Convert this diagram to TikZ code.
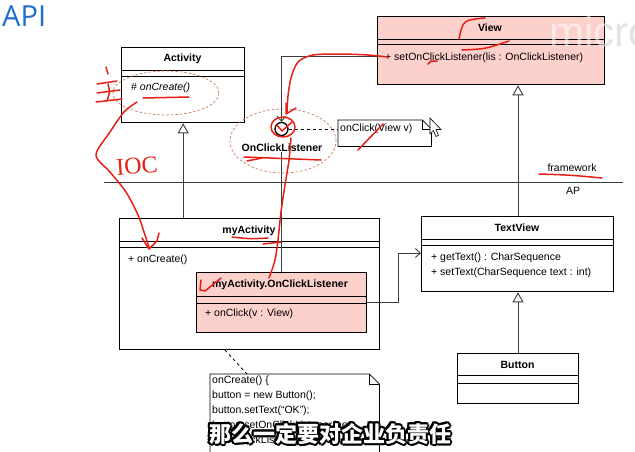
\documentclass[tikz,border=0pt]{standalone}
\usepackage{fontspec}
\setmainfont{Liberation Sans}
\newfontfamily\cjk{Noto Sans CJK SC}
\newfontfamily\apifont{Open Sans}
\newfontfamily\handfont{Liberation Serif}
\usetikzlibrary{arrows.meta}

\definecolor{pinkbox}{RGB}{252,208,203}
\definecolor{ink}{RGB}{230,32,22}
\definecolor{hintline}{RGB}{200,125,90}
\definecolor{apiblue}{RGB}{30,110,205}
\definecolor{wire}{RGB}{60,60,60}

\tikzset{
  classbox/.style={draw=black, line width=1.3pt, fill=white, inner sep=0pt, anchor=north west},
  pinkclass/.style={classbox, fill=pinkbox},
  ctitle/.style={font=\fontsize{10.5}{12}\selectfont\bfseries, inner sep=0pt},
  cmember/.style={font=\fontsize{10.5}{12}\selectfont, anchor=west, inner sep=0pt},
  sepline/.style={line width=0.9pt},
  conn/.style={draw=wire, line width=0.9pt},
  inherit/.style={conn, -{Triangle[open, length=10pt, width=11pt, fill=white]}},
  depend/.style={conn, -{Straight Barb[length=5pt, width=9pt]}},
  hintring/.style={draw=hintline, dash pattern=on 2.5pt off 2pt, line width=0.7pt},
  notebox/.style={inner sep=0pt, anchor=north west},
  pen/.style={draw=ink, line width=1.5pt, line cap=round, line join=round},
  subtitle/.style={font=\cjk\bfseries\fontsize{22}{24}\selectfont, inner sep=0pt},
}

\begin{document}
\begin{tikzpicture}[x=1pt, y=-1pt]
\useasboundingbox (0,0) rectangle (635,451);
\fill[white] (0,0) rectangle (635,451);

% heading
\node[anchor=base west, inner sep=0pt, text=apiblue, font=\apifont\fontsize{29}{30}\selectfont] (heading) at (2,26) {API};

% framework / application boundary
\coordinate (bl) at (104,182);
\coordinate (br) at (623,182);
\draw[draw=wire, line width=0.8pt] (bl) -- (br);
\node[font=\fontsize{10.5}{12}\selectfont, inner sep=0pt] (fw) at (572,168) {framework};
\node[font=\fontsize{10.5}{12}\selectfont, inner sep=0pt] (ap) at (573,191) {AP};

% Activity
\node[classbox, minimum width=123pt, minimum height=75pt] (activity) at (121,47) {};
\node[ctitle] (activityname) at (182.5,59) {Activity};
\draw[sepline] (activity.west |- 0,70) -- (activity.east |- 0,70);
\draw[sepline] (activity.west |- 0,76) -- (activity.east |- 0,76);
\node[cmember] (activityop) at (131,88) {\# \textit{onCreate()}};

% View
\node[pinkclass, minimum width=227pt, minimum height=68pt] (view) at (377,16) {};
\node[ctitle] (viewname) at (490,28) {View};
\draw[sepline] (view.west |- 0,39) -- (view.east |- 0,39);
\draw[sepline] (view.west |- 0,44) -- (view.east |- 0,44);
\node[cmember] (viewop) at (385,58) {+ setOnClickListener(lis : OnClickListener)};

% watermark
\node[anchor=base west, inner sep=0pt, text=white, opacity=0.55, font=\fontsize{42}{42}\selectfont] (mark) at (549,46) {micro};
\begin{scope}
  \clip (605,0) rectangle (635,90);
  \node[anchor=base west, inner sep=0pt, text=gray!22, font=\fontsize{42}{42}\selectfont] (markb) at (549,46) {micro};
\end{scope}

% OnClickListener interface (lollipop)
\draw[hintring] (283,141) ellipse [x radius=53pt, y radius=32pt];
\node[circle, draw, line width=1.3pt, minimum size=13pt, inner sep=0pt] (lol) at (281.5,129) {};
\node[ctitle] (lolname) at (282,148) {OnClickListener};

% note on the interface
\node[notebox, minimum width=93pt, minimum height=26pt] (note1) at (338,120) {};
\draw[line width=0.8pt, fill=white]
  (note1.north west) -- ([xshift=-9pt]note1.north east) -- ([yshift=-9pt]note1.north east)
  -- (note1.south east) -- (note1.south west) -- cycle;
\draw[line width=0.8pt] ([xshift=-9pt]note1.north east) -- ([xshift=-9pt,yshift=-9pt]note1.north east) -- ([yshift=-9pt]note1.north east);
\node[cmember] (note1text) at (340,129) {onClick(View v)};
\draw[dashed, line width=0.8pt] (lol.east) -- (note1.west |- lol.east);

% View uses OnClickListener
\draw[depend] (view.west |- 0,56) -| (lol.north);

% myActivity
\node[classbox, minimum width=260pt, minimum height=131pt] (myact) at (119,218) {};
\node[ctitle] (myactname) at (249,231) {myActivity};
\draw[sepline] (myact.west |- 0,241) -- (myact.east |- 0,241);
\draw[sepline] (myact.west |- 0,247) -- (myact.east |- 0,247);
\node[cmember] (myactop) at (128,260) {+ onCreate()};

% inner listener class
\node[pinkclass, minimum width=170pt, minimum height=60pt] (inner) at (196,272) {};
\node[ctitle] (innername) at (280,285) {myActivity.OnClickListener};
\draw[sepline] (inner.west |- 0,296) -- (inner.east |- 0,296);
\draw[sepline] (inner.west |- 0,303) -- (inner.east |- 0,303);
\node[cmember] (innerop) at (205,314) {+ onClick(v : View)};

% realization of the interface
\draw[conn] (lolname.south -| lol) -- (inner.north -| lol);
% inheritance Activity <- myActivity
\draw[inherit] (activity.south |- myact.north) -- (activity.south);

% TextView
\node[classbox, minimum width=192pt, minimum height=75pt] (textview) at (421,216) {};
\node[ctitle] (textviewname) at (517,228) {TextView};
\draw[sepline] (textview.west |- 0,239) -- (textview.east |- 0,239);
\draw[sepline] (textview.west |- 0,245) -- (textview.east |- 0,245);
\node[cmember] (tvop1) at (431,258) {+ getText() : CharSequence};
\node[cmember] (tvop2) at (431,273) {+ setText(CharSequence text : int)};

% Button
\node[classbox, minimum width=121pt, minimum height=50pt] (button) at (457,353) {};
\node[ctitle] (buttonname) at (517.5,365) {Button};
\draw[sepline] (button.west |- 0,375) -- (button.east |- 0,375);
\draw[sepline] (button.west |- 0,383) -- (button.east |- 0,383);

% inheritance arrows
\draw[inherit] (textview.north -| 518,0) -- (view.south -| 518,0);
\draw[inherit] (button.north -| 518,0) -- (textview.south -| 518,0);

% association listener -> TextView
\coordinate (bend1) at (398,302);
\coordinate (bend2) at (398,253);
\draw[depend] (inner.east |- bend1) -- (bend1) -- (bend2) -- (textview.west |- bend2);

% code note
\node[notebox, minimum width=169pt, minimum height=90pt] (note2) at (210,374) {};
\draw[line width=0.8pt, fill=white]
  (note2.north west) -- ([xshift=-10pt]note2.north east) -- ([yshift=-10pt]note2.north east)
  -- (note2.south east) -- (note2.south west) -- cycle;
\draw[line width=0.8pt] ([xshift=-10pt]note2.north east) -- ([xshift=-10pt,yshift=-10pt]note2.north east) -- ([yshift=-10pt]note2.north east);
\node[cmember] (code1) at (212,381) {onCreate() \{};
\node[cmember] (code2) at (212,396) {button = new Button();};
\node[cmember] (code3) at (212,411) {button.setText(\char"201C OK\char"201D);};
\node[cmember] (code4) at (212,426) {button.setOnClickListener(new};
\node[cmember] (code5) at (212,441) {\hspace{12pt}OnClickListener());};
\coordinate (tail) at (225,350);
\draw[dashed, line width=0.8pt] (tail) -- (note2.north -| 247,0);

% hint ring around the template method
\draw[hintring] (166,93) ellipse [x radius=53pt, y radius=22pt];

% ---- red pen marks ----
% marks beside the Activity class
\draw[pen] (106,67) -- (108,74);
\draw[pen] (97,84) -- (117,81);
\draw[pen] (97,93) -- (120,90);
\draw[pen] (96,102) -- (122,99);
\draw[pen] (108,84) .. controls (110,92) .. (107,101);
\draw[pen] (143,98) -- (189,97);
% inversion of control
\draw[pen] plot[smooth] coordinates {(137,102) (124,112) (110,132) (96,155) (110,172) (126,192) (138,215) (145,235) (149,247)};
\draw[pen] (142,238) -- (149,249) -- (157,241) -- (159,233);
\node[text=ink, font=\handfont\fontsize{24}{24}\selectfont, rotate=4, inner sep=0pt] (ioc) at (137,166) {IOC};
% from setOnClickListener down to the interface
\draw[pen] plot[smooth] coordinates {(387,57) (368,55) (340,54) (313,55) (298,62) (291,78) (288,96) (287,112)};
\draw[pen] (286,103) -- (286,114) -- (296,108);
\draw[pen] (462,50) .. controls (485,49) .. (509,41);
\draw[pen] (485,18) .. controls (463,20) .. (459,39);
\draw[pen] (428,64) -- (431,61) -- (437,61);
\draw[pen] (283,127) ellipse [x radius=12pt, y radius=10pt];
\draw[pen] (277,125) -- (282,131) -- (292,122);
\draw[pen] (358,150) -- (383,124);
% underline of the interface name
\draw[pen] (244,157) -- (321,160);
\draw[pen] (247,161) -- (262,158);
% interface down to the inner class
\draw[pen] plot[smooth] coordinates {(291,138) (289,160) (285,185) (281,212) (278,240) (275,260) (269,278)};
\draw[pen] (263,244) -- (281,242);
\draw[pen] (232,237) .. controls (250,239) .. (268,238);
\draw[pen] (201,280) -- (200,290) -- (205,291) -- (221,278);
\draw[pen] (539,174) .. controls (570,175) .. (602,178);

% mouse pointer
\draw[line width=0.6pt, fill=white] (430,118) -- (430,134) -- (433.5,130.5) -- (436,136.5) -- (438.5,135.5) -- (436,129.5) -- (441,129.5) -- cycle;

% caption
\foreach \dx/\dy [count=\i] in {-2/0, 2/0, 0/-2, 0/2, -1.5/-1.5, 1.5/1.5, -1.5/1.5, 1.5/-1.5, -1/-1.8, 1/1.8, -1.8/1, 1.8/-1}
  \node[subtitle, text=black] (halo\i) at (330+\dx,434+\dy) {那么一定要对企业负责任};
\node[subtitle, text=white] (caption) at (330,434) {那么一定要对企业负责任};
\end{tikzpicture}
\end{document}
